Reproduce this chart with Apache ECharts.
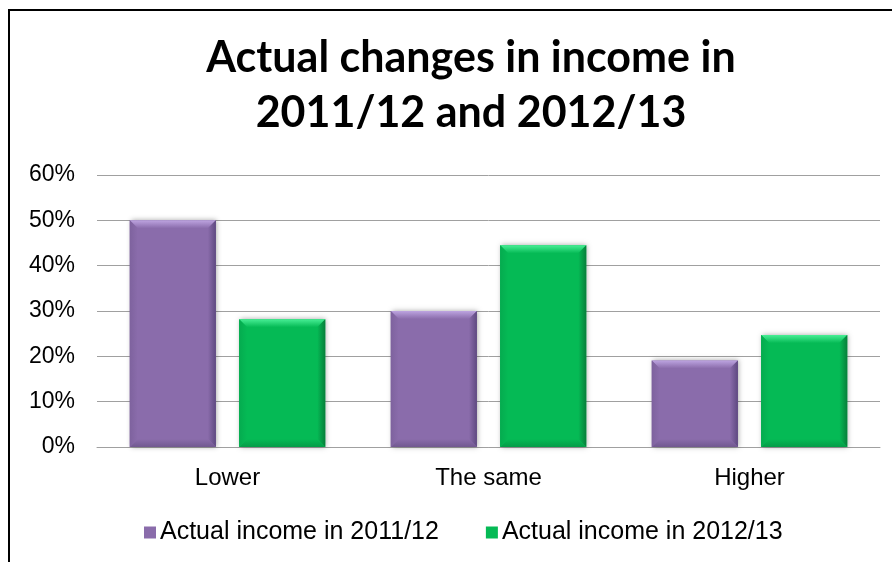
<!DOCTYPE html>
<html>
<head>
<meta charset="utf-8">
<script src="https://cdn.jsdelivr.net/npm/echarts@6/dist/echarts.min.js"></script>
<style>
  html, body { margin: 0; padding: 0; background: #fff; }
  #chart { width: 892px; height: 562px; }
</style>
</head>
<body>
<div id="chart"></div>
<script>
// Survey answers: how income actually changed
const categories = ['Lower', 'The same', 'Higher'];
const seriesNames = ['Actual income in 2011/12', 'Actual income in 2012/13'];
const income2011 = [50, 30, 19.1];
const income2012 = [28.2, 44.5, 24.7];
const yTicks = { min: 0, max: 60, step: 10 };

// Face colours for the bevelled bars: base, top, right, bottom, left
const palettes = [
  { base: '#8a6cab', top: '#bda4e0', right: '#5e4980', bottom: '#715890', left: '#7e629e' },
  { base: '#05ba55', top: '#48ee95', right: '#067f3a', bottom: '#049c47', left: '#05ab4f' }
];

function bevelBar(seriesIdx) {
  return function (params, api) {
    const cat = api.value(0);
    const val = api.value(1);
    const p0 = api.coord([cat, 0]);
    const p1 = api.coord([cat, val]);
    const band = api.size([1, 0])[0];
    const w = band * 0.33;
    const off = band * 0.2095 * (seriesIdx === 0 ? -1 : 1);
    const x = p0[0] + off - w / 2;
    const y = p1[1];
    const h = p0[1] - p1[1];
    const b = Math.min(8, h / 2);
    const c = palettes[seriesIdx];
    return {
      type: 'group',
      children: [
        { type: 'rect', shape: { x: x, y: y, width: w, height: h },
          style: { fill: c.base, shadowBlur: 5, shadowColor: 'rgba(0,0,0,0.35)', shadowOffsetX: 1, shadowOffsetY: 0 } },
        { type: 'polygon', shape: { points: [[x, y], [x + w, y], [x + w - b, y + b], [x + b, y + b]] },
          style: { fill: new echarts.graphic.LinearGradient(0, 0, 0, 1, [
            { offset: 0, color: c.top }, { offset: 1, color: c.base }]) } },
        { type: 'polygon', shape: { points: [[x + w, y], [x + w, y + h], [x + w - b, y + h - b], [x + w - b, y + b]] },
          style: { fill: new echarts.graphic.LinearGradient(1, 0, 0, 0, [
            { offset: 0, color: c.right }, { offset: 1, color: c.base }]) } },
        { type: 'polygon', shape: { points: [[x, y + h], [x + w, y + h], [x + w - b, y + h - b], [x + b, y + h - b]] },
          style: { fill: new echarts.graphic.LinearGradient(0, 1, 0, 0, [
            { offset: 0, color: c.bottom }, { offset: 1, color: c.base }]) } },
        { type: 'polygon', shape: { points: [[x, y], [x, y + h], [x + b, y + h - b], [x + b, y + b]] },
          style: { fill: new echarts.graphic.LinearGradient(0, 0, 1, 0, [
            { offset: 0, color: c.left }, { offset: 1, color: c.base }]) } }
      ]
    };
  };
}

const chart = echarts.init(document.getElementById('chart'), null, { renderer: 'canvas' });
chart.setOption({
  backgroundColor: '#ffffff',
  animation: false,
  title: {
    text: 'Actual changes in income in\n2011/12 and 2012/13',
    left: 466,
    top: 26,
    textAlign: 'center',
    textStyle: {
      fontFamily: 'Lato',
      fontWeight: 'bold',
      fontSize: 43,
      lineHeight: 55,
      color: '#000'
    }
  },
  graphic: [
    { type: 'line', shape: { x1: 8, y1: 10, x2: 892, y2: 10 }, style: { stroke: '#000', lineWidth: 2 } },
    { type: 'line', shape: { x1: 9, y1: 10, x2: 9, y2: 562 }, style: { stroke: '#000', lineWidth: 2 } }
  ],
  legend: {
    data: seriesNames,
    left: 139,
    top: 515,
    itemWidth: 12,
    itemHeight: 12,
    itemGap: 47,
    icon: 'rect',
    textStyle: { fontFamily: 'Liberation Sans', fontSize: 25, color: '#000', padding: [0, 0, 0, -1] }
  },
  grid: { left: 97, right: 12, top: 175, bottom: 115, containLabel: false },
  xAxis: {
    type: 'category',
    data: categories,
    axisLine: { show: true, lineStyle: { color: '#a0a0a0', width: 1 } },
    axisTick: { show: false },
    axisLabel: { fontFamily: 'Liberation Sans', fontSize: 24, color: '#000', margin: 19 }
  },
  yAxis: {
    type: 'value',
    min: yTicks.min,
    max: yTicks.max,
    interval: yTicks.step,
    axisLine: { show: false },
    axisTick: { show: false },
    splitLine: { lineStyle: { color: '#a0a0a0', width: 1 } },
    axisLabel: { formatter: '{value}%', fontFamily: 'Liberation Sans', fontSize: 23, color: '#000', margin: 22 }
  },
  series: [
    {
      name: seriesNames[0],
      type: 'custom',
      renderItem: bevelBar(0),
      encode: { x: 0, y: 1 },
      itemStyle: { color: palettes[0].base },
      data: income2011.map((v, i) => [i, v])
    },
    {
      name: seriesNames[1],
      type: 'custom',
      renderItem: bevelBar(1),
      encode: { x: 0, y: 1 },
      itemStyle: { color: palettes[1].base },
      data: income2012.map((v, i) => [i, v])
    }
  ]
});
</script>
</body>
</html>
